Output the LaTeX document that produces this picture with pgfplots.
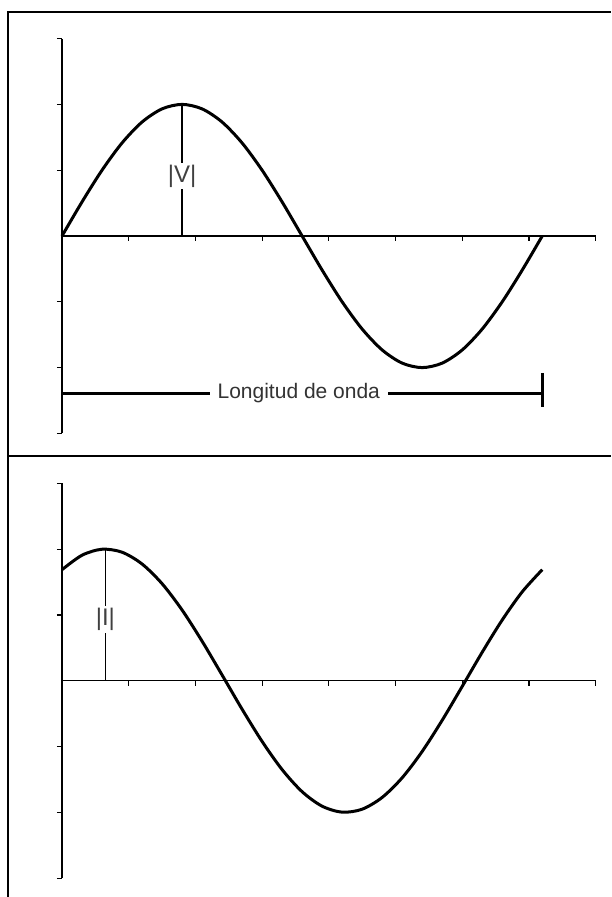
\documentclass[border=0pt]{standalone}
\usepackage{pgfplots}
\pgfplotsset{compat=1.18}
\usepackage{fontspec}
\setmainfont{Liberation Sans}
\pgfplotsset{wave/.style={
  x=33.35pt, y=32.9pt,
  axis lines=middle,
  axis line style={-, line width=0.6pt, black},
  every inner x axis line/.append style={-},
  every inner y axis line/.append style={-},
  xmin=0, xmax=8, ymin=-3, ymax=3,
  xtick={0,...,8}, ytick={-3,...,3},
  xticklabels={}, yticklabels={},
  tick align=outside, major tick length=2.5pt,
  tick style={black, line width=0.6pt},
  clip=false, anchor=origin,
}}
\begin{document}
\begin{tikzpicture}
\path[use as bounding box] (0,0) rectangle (305.5pt,-448.5pt);
\draw[line width=0.8pt] (4pt,-448.5pt) -- (4pt,-6pt) -- (305.5pt,-6pt);
\draw[line width=0.8pt] (4pt,-228pt) -- (305.5pt,-228pt);

\begin{axis}[wave, at={(31pt,-118pt)}]
\addplot[black, line width=1.5pt, smooth] coordinates {
(0,0)(0.3,0.518)(0.6,1)(0.9,1.414)(1.2,1.732)(1.5,1.932)(1.8,2)(2.1,1.932)(2.4,1.732)(2.7,1.414)(3.0,1)(3.3,0.518)(3.6,0)(3.9,-0.518)(4.2,-1)(4.5,-1.414)(4.8,-1.732)(5.1,-1.932)(5.4,-2)(5.7,-1.932)(6.0,-1.732)(6.3,-1.414)(6.6,-1)(6.9,-0.518)(7.2,0)};
\draw[line width=0.6pt] (axis cs:1.8,0) -- (axis cs:1.8,2);
\node[fill=white, text=black!75, inner sep=1pt, font=\fontsize{12}{14}\selectfont] at (axis cs:1.8,0.91) {|V|};
\draw[line width=1.3pt] (axis cs:0,-2.39) -- (axis cs:7.2,-2.39);
\draw[line width=1.3pt] (axis cs:0,-2.08) -- (axis cs:0,-2.6);
\draw[line width=1.3pt] (axis cs:7.2,-2.08) -- (axis cs:7.2,-2.6);
\node[fill=white, text=black!80, inner xsep=4pt, font=\fontsize{10.5}{12}\selectfont] at (axis cs:3.55,-2.39) {Longitud de onda};
\end{axis}

\begin{axis}[wave, at={(31pt,-340.35pt)}]
\addplot[black, line width=1.5pt, smooth] coordinates {
(0,1.687)(0.3,1.907)(0.6,1.998)(0.9,1.953)(1.2,1.774)(1.5,1.475)(1.8,1.075)(2.1,0.601)(2.4,0.087)(2.7,-0.433)(3.0,-0.923)(3.3,-1.351)(3.6,-1.687)(3.9,-1.907)(4.2,-1.998)(4.5,-1.953)(4.8,-1.774)(5.1,-1.475)(5.4,-1.075)(5.7,-0.601)(6.0,-0.087)(6.3,0.433)(6.6,0.923)(6.9,1.351)(7.2,1.687)};
\draw[line width=0.6pt] (axis cs:0.65,0) -- (axis cs:0.65,2);
\node[fill=white, text=black!75, inner sep=1pt, font=\fontsize{12}{14}\selectfont] at (axis cs:0.65,0.93) {|I|};
\end{axis}
\end{tikzpicture}
\end{document}
